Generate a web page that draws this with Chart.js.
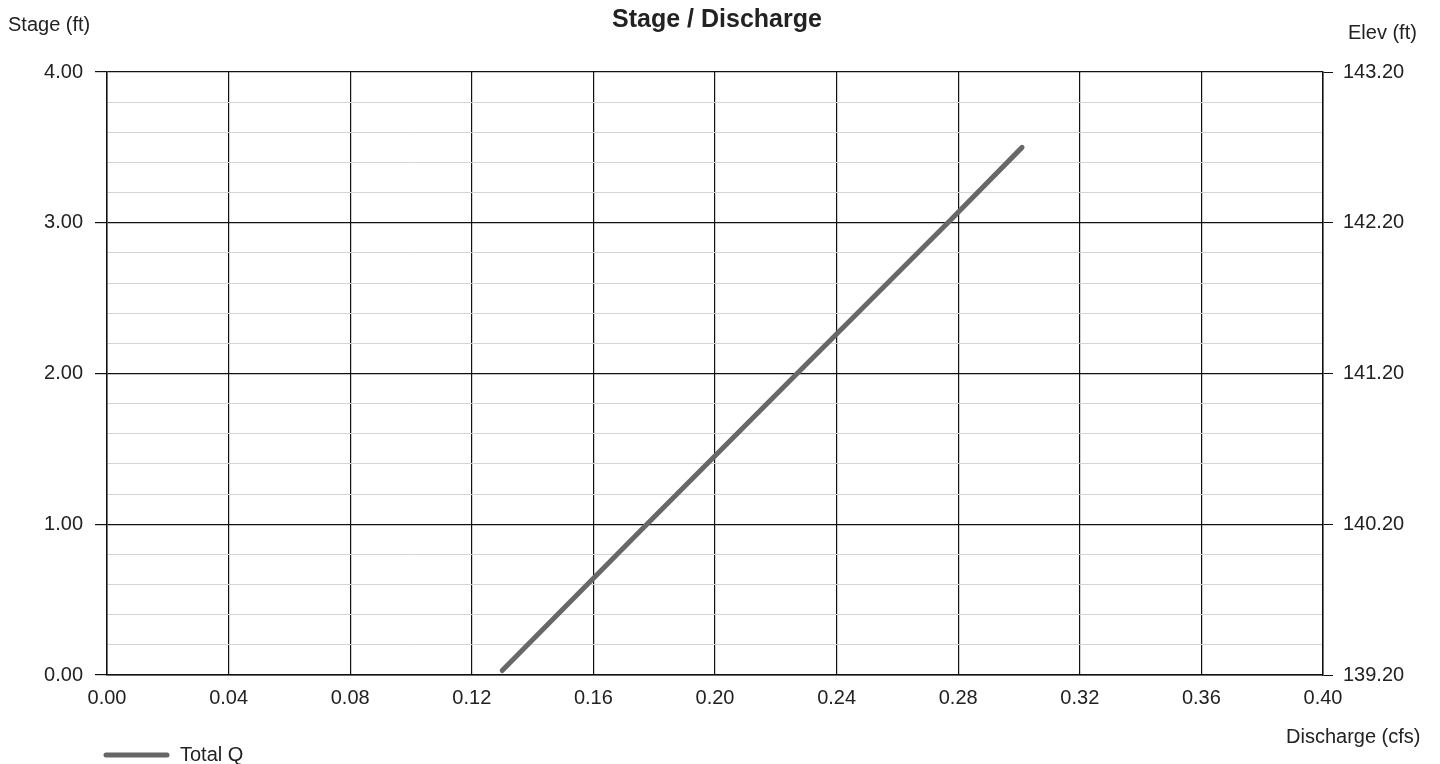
<!DOCTYPE html>
<html>
<head>
<meta charset="utf-8">
<script src="https://cdn.jsdelivr.net/npm/chart.js@4"></script>
<style>
  body { margin: 0; background: #fff; }
  #wrap { width: 1440px; height: 764px; }
</style>
</head>
<body>
<div id="wrap"><canvas id="sdChart" width="1440" height="764"></canvas></div>
<script>
// data
const discharge = [0.130, 0.1776, 0.227, 0.2766, 0.301];   // cfs
const stage = [0.03, 1.00, 2.00, 3.00, 3.50];              // ft
const baseElev = 139.20;                                     // elev at stage 0
const xMin = 0, xMax = 0.40, xStep = 0.04;
const yMin = 0, yMax = 4.00, yMinorStep = 0.2;

const FONT = '"Liberation Sans", Arial, sans-serif';
const isMajor = v => Math.abs(v - Math.round(v)) < 1e-6;

// titles, axis captions, legend
const textPlugin = {
  id: 'texts',
  afterDraw(chart) {
    const ctx = chart.ctx;
    ctx.save();
    ctx.fillStyle = '#222';
    ctx.textBaseline = 'middle';
    ctx.font = 'bold 25px ' + FONT;
    ctx.textAlign = 'center';
    ctx.fillText('Stage / Discharge', 717, 20);
    ctx.font = '20px ' + FONT;
    ctx.textAlign = 'left';
    ctx.fillText('Stage (ft)', 8, 25);
    ctx.fillText('Elev (ft)', 1348, 33);
    ctx.fillText('Discharge (cfs)', 1286, 737);
    // legend
    ctx.strokeStyle = '#666';
    ctx.lineWidth = 5;
    ctx.lineCap = 'round';
    ctx.beginPath();
    ctx.moveTo(106, 755);
    ctx.lineTo(167, 755);
    ctx.stroke();
    ctx.fillText('Total Q', 180, 755);
    ctx.restore();
  }
};

const points = discharge.map((q, i) => ({ x: q, y: stage[i] }));

new Chart(document.getElementById('sdChart'), {
  type: 'scatter',
  data: {
    datasets: [{
      label: 'Total Q',
      data: points,
      showLine: true,
      borderColor: '#686868',
      borderWidth: 5,
      borderCapStyle: 'round',
      pointRadius: 0,
      yAxisID: 'y'
    }]
  },
  options: {
    responsive: false,
    animation: false,
    layout: { padding: { top: 72, left: 0, right: 0, bottom: 0 } },
    plugins: {
      legend: { display: false },
      tooltip: { enabled: false }
    },
    scales: {
      x: {
        type: 'linear',
        min: xMin,
        max: xMax,
        afterFit(s) { s.height = 89; },
        ticks: {
          stepSize: xStep,
          color: '#222',
          font: { family: FONT, size: 20 },
          padding: 11,
          maxRotation: 0,
          callback: v => v.toFixed(2)
        },
        grid: { color: '#111', lineWidth: 1.2, drawTicks: false },
        border: { color: '#111', width: 1.5 }
      },
      y: {
        type: 'linear',
        position: 'left',
        min: yMin,
        max: yMax,
        afterFit(s) { s.width = 107; },
        ticks: {
          stepSize: yMinorStep,
          color: '#222',
          font: { family: FONT, size: 20 },
          padding: 12,
          callback: v => isMajor(v) ? v.toFixed(2) : ''
        },
        grid: {
          color: c => isMajor(c.tick.value) ? '#111' : '#d4d4d4',
          lineWidth: c => isMajor(c.tick.value) ? 1.2 : 1,
          tickColor: c => isMajor(c.tick.value) ? '#111' : 'rgba(0,0,0,0)',
          tickLength: 12
        },
        border: { color: '#111', width: 1.5 }
      },
      y2: {
        type: 'linear',
        position: 'right',
        min: yMin,
        max: yMax,
        afterFit(s) { s.width = 117; },
        ticks: {
          stepSize: 1,
          color: '#222',
          font: { family: FONT, size: 20 },
          padding: 10,
          callback: v => (v + baseElev).toFixed(2)
        },
        grid: { drawOnChartArea: false, color: '#111', tickLength: 10 },
        border: { color: '#111', width: 1.5 }
      }
    }
  },
  plugins: [textPlugin]
});
</script>
</body>
</html>
